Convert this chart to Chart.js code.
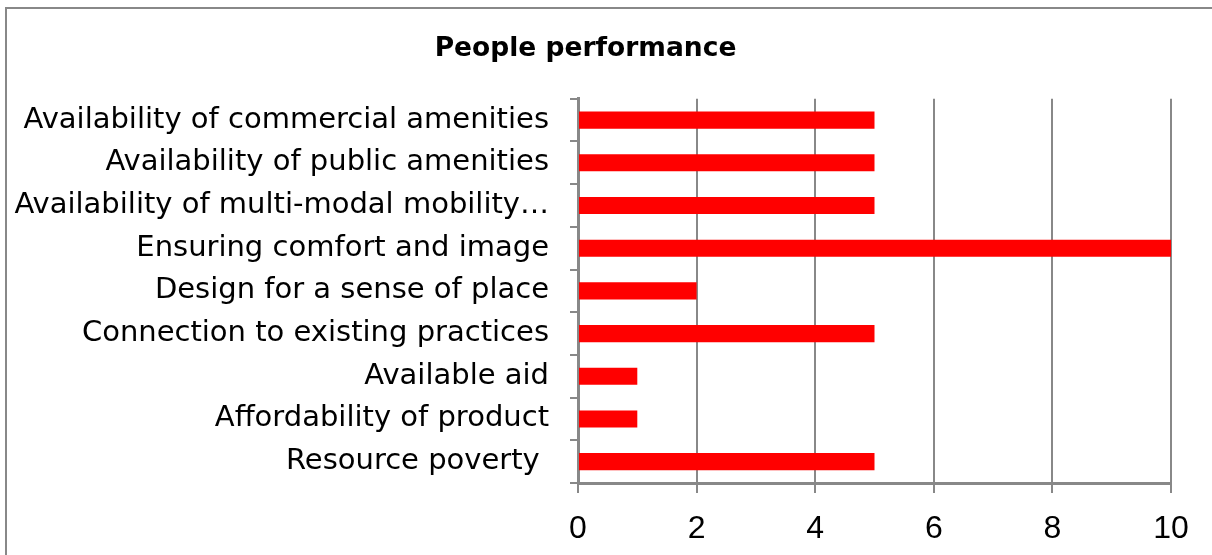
<!DOCTYPE html>
<html>
<head>
<meta charset="utf-8">
<script src="https://cdn.jsdelivr.net/npm/chart.js@4"></script>
<style>
  html, body { margin: 0; padding: 0; background: #fff; overflow: hidden; }
  #frame { position: absolute; left: 5px; top: 7px; width: 1400px; height: 800px; border: 2px solid #888; }
  #wrap { position: absolute; left: 0; top: 0; width: 1212px; height: 555px; }
</style>
</head>
<body>
<div id="frame"></div>
<div id="wrap"><canvas id="myChart"></canvas></div>
<script>
const categories = [
  'Availability of commercial amenities',
  'Availability of public amenities',
  'Availability of multi-modal mobility\u2026',
  'Ensuring comfort and image',
  'Design for a sense of place',
  'Connection to existing practices',
  'Available aid',
  'Affordability of product',
  'Resource poverty '
];
const scores = [5, 5, 5, 10, 2, 5, 1, 1, 5];
const xTicks = [0, 2, 4, 6, 8, 10];

const fontFamily = '"DejaVu Sans", sans-serif';

const ctx = document.getElementById('myChart');
new Chart(ctx, {
  type: 'bar',
  data: {
    labels: categories,
    datasets: [{
      label: 'People performance',
      data: scores,
      backgroundColor: '#ff0000',
      borderWidth: 0,
      categoryPercentage: 1,
      barPercentage: 0.4
    }]
  },
  options: {
    indexAxis: 'y',
    responsive: true,
    maintainAspectRatio: false,
    animation: false,
    layout: { padding: { left: 0, right: 41, top: 0, bottom: 0 } },
    plugins: {
      legend: { display: false },
      tooltip: { enabled: false },
      title: {
        display: true,
        text: 'People performance',
        color: '#000',
        font: { family: fontFamily, size: 26.5, weight: 'bold' },
        padding: { top: 33, bottom: 34 }
      }
    },
    scales: {
      x: {
        min: 0,
        max: 10,
        afterBuildTicks: (scale) => { scale.ticks = xTicks.map(v => ({ value: v })); },
        afterFit: (scale) => { scale.height = 72; },
        grid: { color: '#888', lineWidth: 2, drawTicks: true, tickLength: 10 },
        border: { color: '#888', width: 3 },
        ticks: { color: '#000', padding: 17, font: { family: '"Liberation Sans", Arial, sans-serif', size: 32 } }
      },
      y: {
        afterFit: (scale) => {
          scale.width = 578;
          scale.paddingTop = 0;
          scale.paddingBottom = 0;
        },
        grid: { drawOnChartArea: false, color: '#888', lineWidth: 2, tickLength: 8 },
        border: { color: '#888', width: 3 },
        ticks: { color: '#000', padding: 21, font: { family: fontFamily, size: 29 } }
      }
    }
  }
});
</script>
</body>
</html>
